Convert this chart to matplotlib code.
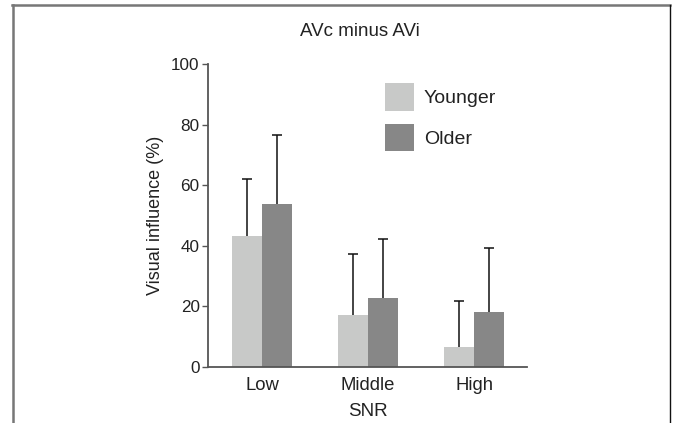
import matplotlib
matplotlib.use("Agg")
import matplotlib.pyplot as plt
from matplotlib.lines import Line2D
from matplotlib.patches import Patch
import numpy as np

plt.rcParams['font.family'] = ['Liberation Sans', 'DejaVu Sans']

categories = ["Low", "Middle", "High"]
series_names = ["Younger", "Older"]
younger = [43.3, 17.3, 6.7]
older = [53.8, 22.9, 18.1]
younger_err = [18.6, 20.1, 15.0]
older_err = [22.7, 19.3, 21.3]

colors = ["#c8c9c8", "#878787"]

W, H = 673, 423
fig = plt.figure(figsize=(W / 100, H / 100), dpi=100)

# axes: x 208..527, y 64..367 (pixels from top)
ax = fig.add_axes([208 / W, 1 - 367 / H, (527 - 208) / W, (367 - 64) / H])

x = np.arange(len(categories))
bw = 30 / 106
for vals, errs, col, off in [(younger, younger_err, colors[0], -bw / 2),
                              (older, older_err, colors[1], bw / 2)]:
    vals = np.asarray(vals)
    errs = np.asarray(errs)
    xs = x + off
    ax.bar(xs, vals, width=bw, color=col, edgecolor='none', zorder=2)
    ax.vlines(xs, vals, vals + errs, colors='#111111', linewidth=1.1, zorder=3)
    ax.plot(xs, vals + errs, linestyle='none', marker='_', markersize=7.5,
            markeredgewidth=1.1, color='#111111', zorder=3)

ax.set_xlim(-0.51, 2.50)
ax.set_ylim(0, 100)
ax.set_yticks([0, 20, 40, 60, 80, 100])
ax.set_xticks(x)
ax.set_xticklabels(categories)
ax.tick_params(axis='x', length=0, pad=7, labelsize=13.3, colors='#222222')
ax.tick_params(axis='y', length=4, width=1, direction='out', labelsize=12.3,
               colors='#555555', labelcolor='#222222', pad=2)
for s in ['top', 'right']:
    ax.spines[s].set_visible(False)
for s in ['left', 'bottom']:
    ax.spines[s].set_color('#555555')
    ax.spines[s].set_linewidth(1.3)

ax.set_ylabel("Visual influence (%)", fontsize=13, color='#222222', labelpad=5)
ax.set_xlabel("SNR", fontsize=13.5, color='#222222', labelpad=7)
fig.text(360 / W, 1 - 35.7 / H, "AVc minus AVi", ha='center', va='baseline',
         fontsize=13.5, color='#222222')

handles = [Patch(facecolor=c, edgecolor='none') for c in colors]
leg = ax.legend(handles, series_names, loc='upper left',
                bbox_to_anchor=((385 - 208) / (527 - 208), 1 - (83 - 64) / (367 - 64)),
                frameon=False, fontsize=14, handlelength=1.5, handleheight=1.8,
                labelspacing=0.67, handletextpad=0.5, borderaxespad=0, borderpad=0)
for t in leg.get_texts():
    t.set_color('#222222')

# figure frame
fig.add_artist(Line2D([13 / W, 13 / W], [0, 1 - 5 / H], transform=fig.transFigure,
                      color='#777777', lw=1.8))
fig.add_artist(Line2D([12 / W, 670 / W], [1 - 5 / H, 1 - 5 / H], transform=fig.transFigure,
                      color='#777777', lw=1.8))
fig.add_artist(Line2D([670 / W, 670 / W], [0, 1 - 5 / H], transform=fig.transFigure,
                      color='#111111', lw=1.0))

fig.savefig("out.png", dpi=100)
